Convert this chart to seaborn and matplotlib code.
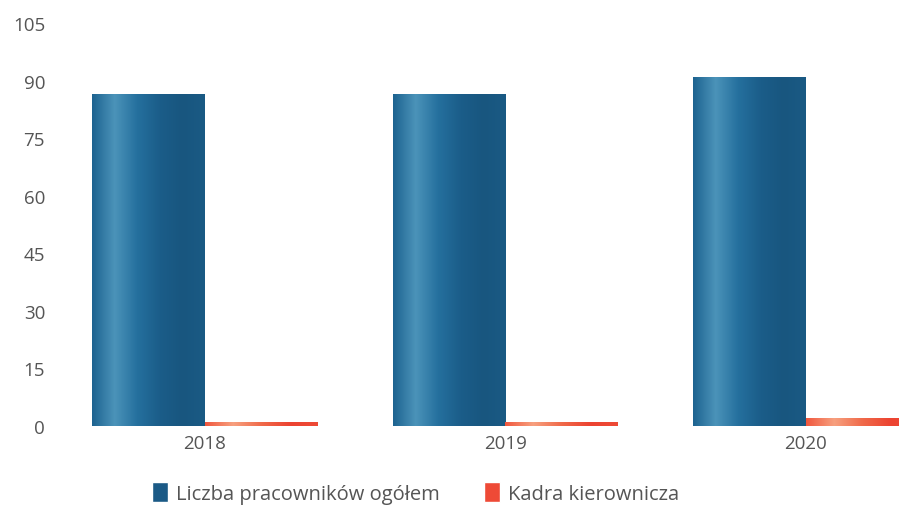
import numpy as np
import pandas as pd
import matplotlib
matplotlib.use("Agg")
import matplotlib.pyplot as plt
import seaborn as sns

years = ["2018", "2019", "2020"]
total = [86.5, 86.5, 91]
managers = [1, 1, 2]
series = ["Liczba pracowników ogółem", "Kadra kierownicza"]
y_ticks = [0, 15, 30, 45, 60, 75, 90, 105]

df = pd.DataFrame({
    "year": years * 2,
    "value": total + managers,
    "series": [series[0]] * 3 + [series[1]] * 3,
})

sns.set_theme(style="white")
plt.rcParams['font.family'] = ['Open Sans', 'DejaVu Sans']

fig = plt.figure(figsize=(8.99, 5.10), dpi=100)
ax = fig.add_axes([0.061, 0.163, 0.939, 0.79])

palette = {series[0]: "#1b5a86", series[1]: "#ee4a36"}
sns.barplot(data=df, x="year", y="value", hue="series", palette=palette,
            width=0.75, gap=0, saturation=1, ax=ax, legend=True)

# gradient shading inside bars
blue_cmap = matplotlib.colors.LinearSegmentedColormap.from_list(
    "b", ["#1d6390", "#4b93b9", "#25709e", "#1b5d89", "#18567f", "#1a5a84"])
red_cmap = matplotlib.colors.LinearSegmentedColormap.from_list(
    "r", ["#f0573e", "#f7a07f", "#f06a4a", "#ec4331", "#ee4a36"])
for cont, cmap in zip(ax.containers, [blue_cmap, red_cmap]):
    for p in cont.patches:
        x0, y0 = p.get_x(), p.get_y()
        w, h = p.get_width(), p.get_height()
        grad = np.linspace(0, 1, 256).reshape(1, -1)
        im = ax.imshow(grad, cmap=cmap, aspect="auto",
                       extent=[x0, x0 + w, y0, y0 + h], zorder=p.get_zorder() + 0.1)
        im.set_clip_path(p)

ax.set_xlim(-0.5, 2.31)
ax.set_ylim(0, 105)
ax.set_yticks(y_ticks)
ax.set_yticklabels([str(t) for t in y_ticks])
ax.set_xlabel("")
ax.set_ylabel("")
for s in ax.spines.values():
    s.set_visible(False)
ax.tick_params(axis="both", colors="#555555", labelsize=13.5, length=0)
ax.tick_params(axis="y", pad=7)
ax.tick_params(axis="x", pad=6)

handles, labels = ax.get_legend_handles_labels()
ax.legend(handles, labels, loc="upper center", bbox_to_anchor=(0.427, -0.095),
          ncol=2, frameon=False, fontsize=14.5, handlelength=0.8, handleheight=1.1,
          handletextpad=0.4, columnspacing=2.2, labelcolor="#555555")

fig.savefig("out.png", dpi=100, facecolor="white")
